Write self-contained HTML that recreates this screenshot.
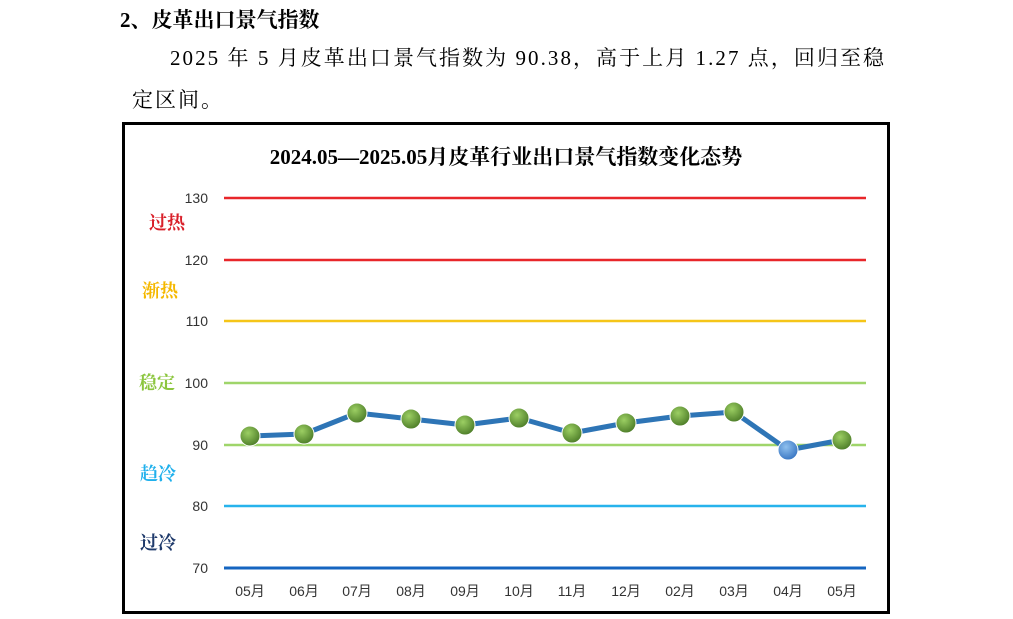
<!DOCTYPE html>
<html><head><meta charset="utf-8"><style>
body{margin:0;background:#fff;width:1013px;height:619px;overflow:hidden;position:relative;font-family:"Liberation Serif","Noto Serif CJK SC",serif}
.t{position:absolute;white-space:nowrap;color:#000}
</style></head><body>
<div class="t" style="left:120px;top:4px;font-size:21px;font-weight:bold;font-family:'Liberation Serif','Noto Serif CJK SC',serif">2、皮革出口景气指数</div>
<div class="t" style="left:170px;top:42px;font-size:21px;letter-spacing:2.05px">2025 年 5 月皮革出口景气指数为 90.38，高于上月 1.27 点，回归至稳</div>
<div class="t" style="left:132px;top:84px;font-size:21px;letter-spacing:2px">定区间。</div>
<svg style="position:absolute;left:0;top:0" width="1013" height="619">
<defs><radialGradient id="g" cx="40%" cy="35%" r="65%"><stop offset="0" stop-color="#9ccf63"/><stop offset="1" stop-color="#4f7f2a"/></radialGradient>
<radialGradient id="b" cx="40%" cy="35%" r="65%"><stop offset="0" stop-color="#8fc0ee"/><stop offset="1" stop-color="#3b78c4"/></radialGradient></defs>
<rect x="123.5" y="123.5" width="765" height="489" fill="#fff" stroke="#000" stroke-width="3"/>
<text x="506" y="164" text-anchor="middle" font-size="21" font-weight="bold" font-family="Liberation Serif,Noto Serif CJK SC,serif">2024.05—2025.05月皮革行业出口景气指数变化态势</text>
<g stroke-width="2.5">
<line x1="224" x2="866" y1="198" y2="198" stroke="#e8262a"/>
<line x1="224" x2="866" y1="260" y2="260" stroke="#e8262a"/>
<line x1="224" x2="866" y1="321" y2="321" stroke="#f5c518"/>
<line x1="224" x2="866" y1="383" y2="383" stroke="#9fd56a"/>
<line x1="224" x2="866" y1="445" y2="445" stroke="#9fd56a"/>
<line x1="224" x2="866" y1="506" y2="506" stroke="#27b3ec"/>
<line x1="224" x2="866" y1="568" y2="568" stroke="#1565c0" stroke-width="3"/>
</g>
<g font-family="Liberation Sans,Noto Sans CJK SC,sans-serif" font-size="14" fill="#333" text-anchor="end">
<text x="208" y="203">130</text><text x="208" y="265">120</text><text x="208" y="326">110</text><text x="208" y="388">100</text><text x="208" y="450">90</text><text x="208" y="511">80</text><text x="208" y="573">70</text>
</g>
<g font-family="Noto Serif CJK SC,serif" font-size="18" font-weight="bold" text-anchor="middle">
<text x="167" y="229" fill="#d9202a">过热</text>
<text x="160" y="297" fill="#f5b800">渐热</text>
<text x="157" y="389" fill="#8cc63f">稳定</text>
<text x="158" y="480" fill="#1fb0ec">趋冷</text>
<text x="158" y="549" fill="#1f3a6b">过冷</text>
</g>
<polyline fill="none" stroke="#2e75b6" stroke-width="5" stroke-linejoin="round" points="250,436 304,434 357,413 411,419 465,425 519,418 572,433 626,423 680,416 734,412 788,450 842,440"/>
<g fill="url(#g)" stroke="#fff" stroke-width="1">
<circle cx="250" cy="436" r="10"/><circle cx="304" cy="434" r="10"/><circle cx="357" cy="413" r="10"/><circle cx="411" cy="419" r="10"/><circle cx="465" cy="425" r="10"/><circle cx="519" cy="418" r="10"/><circle cx="572" cy="433" r="10"/><circle cx="626" cy="423" r="10"/><circle cx="680" cy="416" r="10"/><circle cx="734" cy="412" r="10"/><circle cx="842" cy="440" r="10"/>
</g>
<circle cx="788" cy="450" r="10" fill="url(#b)" stroke="#fff"/>
<g font-family="Liberation Sans,Noto Sans CJK SC,sans-serif" font-size="14" fill="#333" text-anchor="middle">
<text x="250" y="596">05月</text><text x="304" y="596">06月</text><text x="357" y="596">07月</text><text x="411" y="596">08月</text><text x="465" y="596">09月</text><text x="519" y="596">10月</text><text x="572" y="596">11月</text><text x="626" y="596">12月</text><text x="680" y="596">02月</text><text x="734" y="596">03月</text><text x="788" y="596">04月</text><text x="842" y="596">05月</text>
</g>
</svg>
</body></html>
